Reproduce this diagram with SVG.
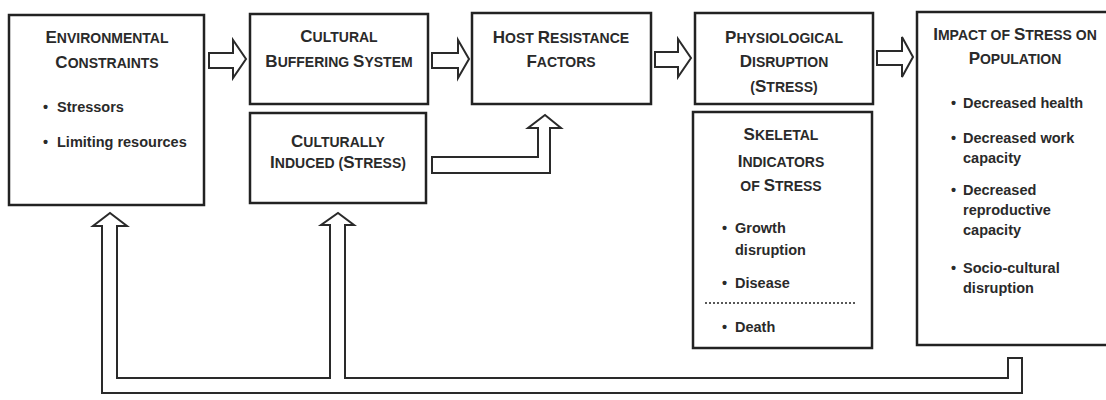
<svg xmlns="http://www.w3.org/2000/svg" width="1106" height="400" viewBox="0 0 1106 400">
<style>
.box{fill:#fff;stroke:#222;stroke-width:2.5}
.arr{fill:#fff;stroke:#2a2a2a;stroke-width:2;stroke-linejoin:miter}
text{font-family:"Liberation Sans",Arial,sans-serif;font-weight:bold;fill:#2a2a2a}
.t{font-size:14px;text-anchor:middle}
.b{font-size:14.5px}
.L{font-size:17px}
.dot{stroke:#222;stroke-width:1.5;stroke-dasharray:2 2}
</style>
<rect width="1106" height="400" fill="#fff"/>
<g id="connectors">
<path class="arr" d="M209,53 H233 V40 L246,59 L233,78 V68 H209 Z"/>
<path class="arr" d="M432,53 H458 V40 L469,59 L458,78 V68 H432 Z"/>
<path class="arr" d="M655,52 H678 V39 L691,58 L678,77 V67 H655 Z"/>
<path class="arr" d="M877,51 H902 V37 L913,57 L902,77 V65 H877 Z"/>
<path class="arr" d="M432,157 H538 V128 H528 L545,115 L561,128 H550 V173 H432 Z"/>
<path class="arr" d="M1022,358 V393 H102 V226 H93 L110,213 L127,226 H117 V378 H330 V225 H321 L338,213 L354,225 H345 V378 H1008 V358 Z"/>
</g>
<g id="env">
<rect class="box" x="9" y="15" width="195" height="190"/>
<text class="t" x="107" y="43"><tspan class="L">E</tspan>NVIRONMENTAL</text>
<text class="t" x="107" y="68"><tspan class="L">C</tspan>ONSTRAINTS</text>
<text class="b" x="43" y="112">•</text><text class="b" x="57" y="112">Stressors</text>
<text class="b" x="43" y="147">•</text><text class="b" x="57" y="147">Limiting resources</text>
</g>
<g id="buffer">
<rect class="box" x="250" y="14" width="178" height="90"/>
<text class="t" x="339" y="42"><tspan class="L">C</tspan>ULTURAL</text>
<text class="t" x="339" y="67"><tspan class="L">B</tspan>UFFERING <tspan class="L">S</tspan>YSTEM</text>
</g>
<g id="induced">
<rect class="box" x="250" y="113" width="176" height="90"/>
<text class="t" x="338" y="147"><tspan class="L">C</tspan>ULTURALLY</text>
<text class="t" x="338" y="168"><tspan class="L">I</tspan>NDUCED (<tspan class="L">S</tspan>TRESS)</text>
</g>
<g id="host">
<rect class="box" x="472" y="13" width="179" height="91"/>
<text class="t" x="561" y="43"><tspan class="L">H</tspan>OST <tspan class="L">R</tspan>ESISTANCE</text>
<text class="t" x="561" y="67"><tspan class="L">F</tspan>ACTORS</text>
</g>
<g id="physio">
<rect class="box" x="695" y="13" width="178" height="91"/>
<text class="t" x="784" y="43"><tspan class="L">P</tspan>HYSIOLOGICAL</text>
<text class="t" x="784" y="67"><tspan class="L">D</tspan>ISRUPTION</text>
<text class="t" x="784" y="92">(<tspan class="L">S</tspan>TRESS)</text>
</g>
<g id="skeletal">
<rect class="box" x="693" y="112" width="179" height="236"/>
<text class="t" x="781" y="140"><tspan class="L">S</tspan>KELETAL</text>
<text class="t" x="781" y="167"><tspan class="L">I</tspan>NDICATORS</text>
<text class="t" x="781" y="191">OF <tspan class="L">S</tspan>TRESS</text>
<text class="b" x="722" y="233">•</text><text class="b" x="735" y="233">Growth</text>
<text class="b" x="735" y="255">disruption</text>
<text class="b" x="722" y="288">•</text><text class="b" x="735" y="288">Disease</text>
<line class="dot" x1="705" y1="303" x2="856" y2="303"/>
<text class="b" x="722" y="332">•</text><text class="b" x="735" y="332">Death</text>
</g>
<g id="impact">
<rect class="box" x="917" y="12" width="200" height="333"/>
<text class="t" x="1015" y="40"><tspan class="L">I</tspan>MPACT OF <tspan class="L">S</tspan>TRESS ON</text>
<text class="t" x="1015" y="64"><tspan class="L">P</tspan>OPULATION</text>
<text class="b" x="951" y="108">•</text><text class="b" x="963" y="108">Decreased health</text>
<text class="b" x="951" y="143">•</text><text class="b" x="963" y="143">Decreased work</text>
<text class="b" x="963" y="163">capacity</text>
<text class="b" x="951" y="195">•</text><text class="b" x="963" y="195">Decreased</text>
<text class="b" x="963" y="215">reproductive</text>
<text class="b" x="963" y="235">capacity</text>
<text class="b" x="951" y="273">•</text><text class="b" x="963" y="273">Socio-cultural</text>
<text class="b" x="963" y="293">disruption</text>
</g>
</svg>
